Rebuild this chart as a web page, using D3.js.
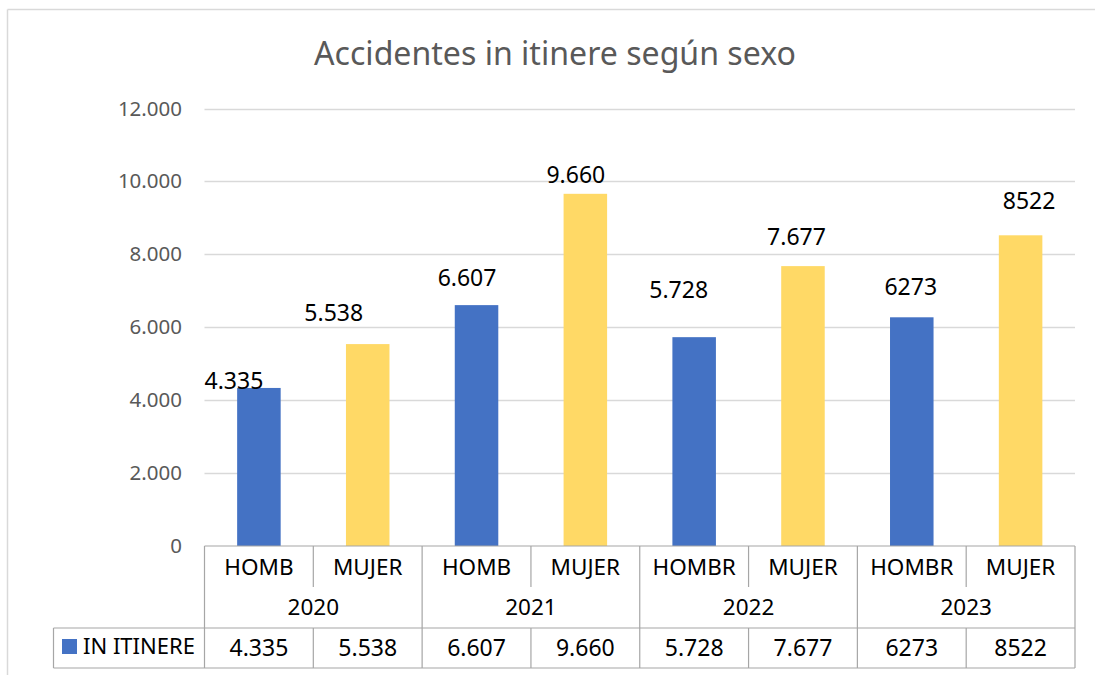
<!DOCTYPE html>
<html>
<head>
<meta charset="utf-8">
<script src="https://cdn.jsdelivr.net/npm/d3@7/dist/d3.min.js"></script>
<style>
  html, body { margin: 0; padding: 0; background: #fff; }
  svg { display: block; font-family: "Noto Sans", "Open Sans", sans-serif; }
</style>
</head>
<body>
<svg id="chart" width="1095" height="675"></svg>
<script>
// ---- data ----
const title = "Accidentes in itinere según sexo";
const categories = ["HOMB", "MUJER", "HOMB", "MUJER", "HOMBR", "MUJER", "HOMBR", "MUJER"];
const genders = ["H", "M", "H", "M", "H", "M", "H", "M"];
const years = ["2020", "2021", "2022", "2023"];
const values = [4335, 5538, 6607, 9660, 5728, 7677, 6273, 8522];
const valueLabels = ["4.335", "5.538", "6.607", "9.660", "5.728", "7.677", "6273", "8522"];
const seriesName = "IN ITINERE";
const yTicks = [0, 2000, 4000, 6000, 8000, 10000, 12000];

// ---- style / layout ----
const colors = { H: "#4472C4", M: "#FFD966" };
const labelNudge = [[-25, 1], [-34, -23], [-9.5, -19], [-9.5, -11], [-15.5, -39], [-6.5, -21], [-1, -22], [8.5, -26]];
const plot = { left: 204.5, right: 1075, top: 108.5, bottom: 546 };
const table = { legendLeft: 53.5, catRowBottom: 587, yearRowBottom: 628, bottom: 668 };

const svg = d3.select("#chart");
const fmt = d3.formatLocale({ decimal: ",", thousands: ".", grouping: [3], currency: ["", ""] }).format(",");

const idx = d3.range(values.length);
const x = d3.scaleBand().domain(idx).range([plot.left, plot.right]).paddingInner(0).paddingOuter(0);
const y = d3.scaleLinear().domain([0, 12000]).range([plot.bottom, plot.top]);
const barW = x.bandwidth() / 2.5;

// chart frame
svg.append("line").attr("x1", 7.5).attr("x2", 7.5).attr("y1", 9.5).attr("y2", 675).attr("stroke", "#d9d9d9").attr("stroke-width", 1.5);
svg.append("line").attr("x1", 7.5).attr("x2", 1095).attr("y1", 9.5).attr("y2", 9.5).attr("stroke", "#d9d9d9").attr("stroke-width", 1.5);

// title
const t = svg.append("text").attr("x", 555).attr("y", 65).attr("text-anchor", "middle")
  .attr("fill", "#595959").style("font-size", "30px").text(title);
const tl = t.node().getComputedTextLength();
t.style("font-size", (30 * 482 / tl) + "px");

// gridlines
svg.append("g").selectAll("line").data(yTicks.filter(d => d > 0)).join("line")
  .attr("x1", plot.left).attr("x2", plot.right)
  .attr("y1", d => Math.round(y(d)) + 0.5).attr("y2", d => Math.round(y(d)) + 0.5)
  .attr("stroke", "#d9d9d9").attr("stroke-width", 1.5);

// y axis labels
const yAxis = d3.axisLeft(y).tickValues(yTicks).tickFormat(fmt).tickSize(0).tickPadding(0);
const ya = svg.append("g").attr("transform", `translate(182,0)`).call(yAxis);
ya.select(".domain").remove();
ya.selectAll("text").attr("fill", "#595959").style("font-size", "20.5px").style("font-family", "'Noto Sans', sans-serif");

// bars
svg.append("g").selectAll("rect").data(idx).join("rect")
  .attr("x", i => x(i) + (x.bandwidth() - barW) / 2)
  .attr("width", barW)
  .attr("y", i => y(values[i]))
  .attr("height", i => y(0) - y(values[i]))
  .attr("fill", i => colors[genders[i]]);

// data labels
svg.append("g").selectAll("text").data(idx).join("text")
  .attr("x", i => x(i) + x.bandwidth() / 2 + labelNudge[i][0])
  .attr("y", i => y(values[i]) + labelNudge[i][1])
  .attr("text-anchor", "middle").attr("fill", "#000").style("font-size", "23px")
  .text(i => valueLabels[i]);

// ---- data table ----
const tg = svg.append("g");
const stroke = "#a6a6a6";
function hline(x1, x2, yy) { tg.append("line").attr("x1", x1).attr("x2", x2).attr("y1", yy).attr("y2", yy).attr("stroke", stroke).attr("stroke-width", 1.2); }
function vline(xx, y1, y2) { tg.append("line").attr("x1", xx).attr("x2", xx).attr("y1", y1).attr("y2", y2).attr("stroke", stroke).attr("stroke-width", 1.2); }

hline(plot.left, plot.right, plot.bottom);
hline(table.legendLeft, plot.right, table.yearRowBottom);
hline(table.legendLeft, plot.right, table.bottom);
vline(table.legendLeft, table.yearRowBottom, table.bottom);
idx.forEach(i => {
  const xx = x(i);
  if (i % 2 === 0) vline(xx, plot.bottom, table.bottom);
  else { vline(xx, plot.bottom, table.catRowBottom); vline(xx, table.yearRowBottom, table.bottom); }
});
vline(plot.right, plot.bottom, table.bottom);

// category labels
tg.append("g").selectAll("text").data(idx).join("text")
  .attr("x", i => x(i) + x.bandwidth() / 2).attr("y", 575)
  .attr("text-anchor", "middle").attr("fill", "#000").style("font-size", "22.5px")
  .text(i => categories[i]);

// year labels
tg.append("g").selectAll("text").data(years).join("text")
  .attr("x", (d, j) => x(j * 2) + x.bandwidth())
  .attr("y", 615)
  .attr("text-anchor", "middle").attr("fill", "#000").style("font-size", "22.5px")
  .text(d => d);

// value row
tg.append("g").selectAll("text").data(idx).join("text")
  .attr("x", i => x(i) + x.bandwidth() / 2).attr("y", 656)
  .attr("text-anchor", "middle").attr("fill", "#000").style("font-size", "23px")
  .text(i => valueLabels[i]);

// legend key
tg.append("rect").attr("x", 62).attr("y", 639).attr("width", 15).attr("height", 15).attr("fill", colors.H);
const lt = tg.append("text").attr("x", 83).attr("y", 654).attr("fill", "#000").style("font-size", "22px").text(seriesName);
const ll = lt.node().getComputedTextLength();
lt.style("font-size", (22 * 112 / ll) + "px");
</script>
</body>
</html>
